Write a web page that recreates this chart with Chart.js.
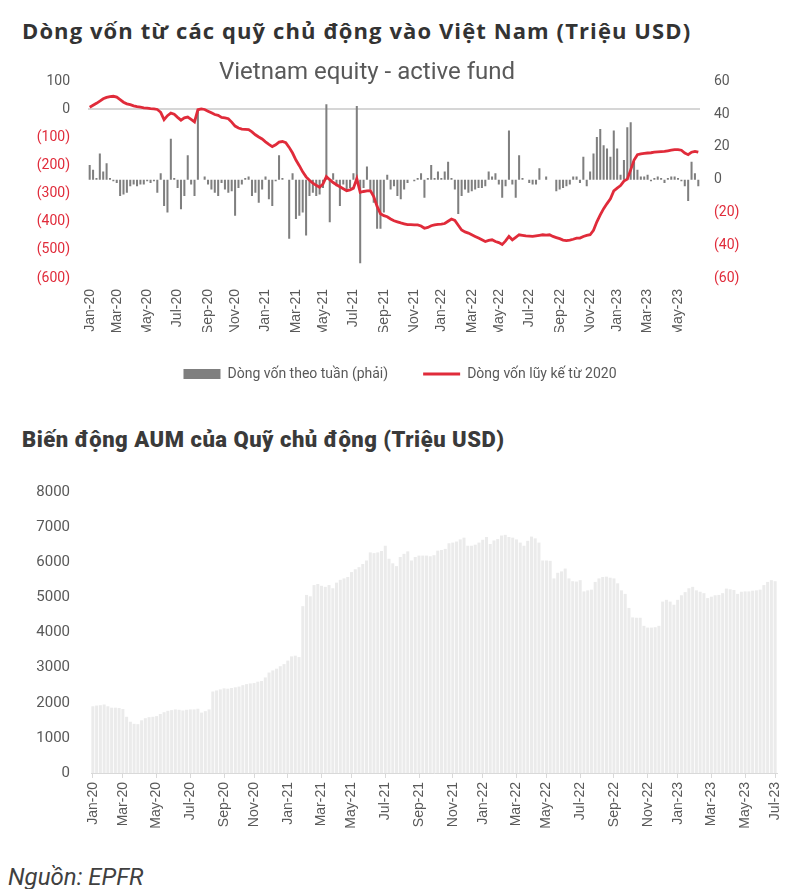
<!DOCTYPE html>
<html>
<head>
<meta charset="utf-8">
<script src="https://cdn.jsdelivr.net/npm/chart.js@4.4.1/dist/chart.umd.min.js"></script>
<style>
  body { margin: 0; background: #fff; width: 800px; height: 889px; position: relative; overflow: hidden; }
  .title { position: absolute; left: 22px; font-weight: bold; line-height: 26px; color: #333; white-space: nowrap; }
  #t1 { top: 17px; font-family: 'Open Sans', sans-serif; font-size: 22px; letter-spacing: 1.1px; }
  #t2 { top: 427px; font-family: Roboto, sans-serif; font-weight: 900; font-size: 22px; letter-spacing: 0.5px; color: #3a3a3a; }
  canvas { position: absolute; left: 0; }
  #flowChart { top: 55px; }
  #aumChart { top: 470px; }
  #src { position: absolute; left: 8px; top: 863px; font-family: Roboto, sans-serif; font-style: italic; font-size: 24px; line-height: 28px; color: #404040; }
</style>
</head>
<body>
<div class="title" id="t1">Dòng vốn từ các quỹ chủ động vào Việt Nam (Triệu USD)</div>
<canvas id="flowChart" width="800" height="336"></canvas>
<div class="title" id="t2">Biến động AUM của Quỹ chủ động (Triệu USD)</div>
<canvas id="aumChart" width="800" height="370"></canvas>
<div id="src">Nguồn: EPFR</div>
<script>
// weekly categories start here (one per week)
const firstWeek = '2020-01-05';

const tickLabels = ['Jan-20','Mar-20','May-20','Jul-20','Sep-20','Nov-20',
  'Jan-21','Mar-21','May-21','Jul-21','Sep-21','Nov-21',
  'Jan-22','Mar-22','May-22','Jul-22','Sep-22','Nov-22',
  'Jan-23','Mar-23','May-23','Jul-23'];

// weekly flow, right axis (million USD)
const weeklyFlow = [
  9, 6, 1, 16, 5, 10, 1, -1, -2, -10,
  -9, -8, -4, -3, -4, -3, -3, -1, -2, -1,
  -8, 4, -16, -20, 25, 1, -5, -18, -10, 15,
  -3, -10, 42, 0, 2, -3, -6, -8, -10, -2,
  -6, -8, -7, -22, -5, -3, 1, 2, -10, -8,
  -14, -6, 2, -12, -16, -1, 15, 1, 0, -36,
  4, -24, -22, -20, -34, -10, -8, -10, -9, -5,
  46, -26, 4, -4, -16, -3, -6, -5, 4, 45,
  -51, -5, 8, -6, -14, -30, -30, -20, 3, -6,
  -4, -10, -12, -6, -2, 0, -1, 1, 4, -11,
  1, 9, 1, 5, 1, 5, 11, 1, -6, -21,
  -10, -6, -8, -7, -6, -5, -5, -4, 5, 2,
  4, -3, -11, -4, 30, -3, -11, 15, 1, 0,
  -2, -3, -3, 7, 0, 2, 0, 0, -7, -6,
  -5, -4, -3, 2, 2, -2, 14, -4, 5, 16,
  26, 31, 21, 19, 14, 30, 19, 3, 12, 32,
  35, 11, 6, 2, 2, 3, -1, 1, 2, 1,
  -2, 1, 2, 2, 1, -1, -4, -13, 11, 4,
  -4
];

// cumulative flow since 2020, left axis (million USD)
const cumulativeFlow = [
  8, 15, 22, 30, 38, 43, 46, 47, 44, 35,
  26, 20, 17, 13, 10, 8, 6, 5, 3, 2,
  0, -10, -36, -22, -13, -17, -28, -38, -30, -27,
  -35, -44, -1, 2, 0, -6, -12, -18, -21, -28,
  -30, -33, -45, -59, -66, -70, -71, -72, -80, -90,
  -98, -105, -115, -124, -132, -126, -116, -114, -118, -135,
  -155, -180, -200, -222, -240, -252, -262, -270, -277, -265,
  -239, -250, -260, -268, -275, -282, -289, -286, -280, -246,
  -295, -292, -290, -289, -310, -345, -371, -378, -382, -390,
  -396, -400, -404, -407, -410, -410, -411, -411, -415, -423,
  -420, -414, -411, -409, -408, -406, -398, -390, -395, -412,
  -429, -436, -440, -446, -452, -458, -464, -470, -466, -464,
  -470, -474, -481, -468, -452, -464, -455, -446, -448, -450,
  -451, -452, -450, -448, -446, -447, -446, -452, -456, -460,
  -465, -467, -465, -462, -458, -458, -452, -448, -446, -430,
  -400, -375, -353, -335, -318, -290, -280, -271, -255, -248,
  -215, -180, -161, -158, -156, -155, -154, -152, -151, -150,
  -149, -147, -145, -143, -143, -145, -155, -161, -152, -149,
  -152
];

// AUM of active funds (million USD)
const aum = [
  1900, 1920, 1930, 1950, 1900, 1860, 1860, 1850, 1820, 1600,
  1460, 1400, 1390, 1500, 1560, 1590, 1600, 1620, 1680, 1730,
  1770, 1790, 1810, 1800, 1780, 1800, 1810, 1810, 1830, 1720,
  1760, 1810, 2320, 2350, 2380, 2410, 2400, 2420, 2440, 2460,
  2500, 2530, 2550, 2560, 2600, 2620, 2720, 2860, 2920, 2970,
  3040, 3100, 3200, 3320, 3340, 3300, 4750, 5070, 5030, 5350,
  5380, 5330, 5300, 5350, 5260, 5420, 5500, 5540, 5580, 5720,
  5800, 5860, 5950, 6050, 6280, 6260, 6280, 6320, 6470, 6100,
  5970, 5890, 6150, 6240, 6310, 6050, 6150, 6190, 6190, 6190,
  6170, 6200, 6330, 6350, 6380, 6540, 6560, 6590, 6650, 6700,
  6470, 6470, 6500, 6560, 6640, 6720, 6520, 6620, 6660, 6760,
  6780, 6720, 6700, 6650, 6560, 6470, 6610, 6730, 6680, 6560,
  6050, 6050, 6040, 5540, 5700, 5740, 5820, 5540, 5460, 5450,
  5490, 5170, 5200, 5220, 5440, 5540, 5580, 5590, 5560, 5540,
  5400, 5200, 5100, 4700, 4430, 4420, 4420, 4190, 4140, 4140,
  4150, 4190, 4880, 4930, 4880, 4790, 4930, 5060, 5150, 5260,
  5300, 5200, 5160, 5120, 4980, 5020, 5060, 5070, 5120, 5250,
  5230, 5210, 5100, 5160, 5170, 5170, 5190, 5200, 5220, 5350,
  5440, 5490, 5460
];

const RED = '#e02b3a';
const GREY_TEXT = '#595959';
const MONTHS = ['Jan','Feb','Mar','Apr','May','Jun','Jul','Aug','Sep','Oct','Nov','Dec'];

// weekly date labels
let weeks = [];
let start = new Date(firstWeek + 'T00:00:00Z').getTime();
for (let i = 0; i < aum.length; i++) {
  weeks.push(new Date(start + i * 7 * 86400000).toISOString().slice(0, 10));
}
function monthOf(s) {
  let d = new Date(s + 'T00:00:00Z');
  return MONTHS[d.getUTCMonth()] + '-' + String(d.getUTCFullYear()).slice(2);
}
function monthTick(labels) {
  return function (value, index) {
    let m = monthOf(labels[index]);
    if (!tickLabels.includes(m)) return null;
    if (index > 0 && monthOf(labels[index - 1]) === m) return null;
    return m;
  };
}
function paren(v) { return v < 0 ? '(' + Math.abs(v) + ')' : String(v); }

Chart.defaults.font.family = 'Roboto';
Chart.defaults.color = GREY_TEXT;

const flowWeeks = weeks.slice(0, weeklyFlow.length);

// title drawn inside the plot
const innerTitle = {
  id: 'innerTitle',
  afterDraw(chart) {
    let ctx = chart.ctx;
    ctx.save();
    ctx.font = '24px Roboto';
    ctx.fillStyle = GREY_TEXT;
    ctx.textAlign = 'center';
    ctx.textBaseline = 'middle';
    ctx.fillText('Vietnam equity - active fund', 367, 18);
    ctx.restore();
  }
};

new Chart(document.getElementById('flowChart'), {
  type: 'bar',
  data: {
    labels: flowWeeks,
    datasets: [{
      type: 'bar',
      label: 'Dòng vốn theo tuần (phải)',
      data: weeklyFlow,
      yAxisID: 'y2',
      backgroundColor: '#7f7f7f',
      barPercentage: 0.6,
      categoryPercentage: 1,
      order: 2
    }, {
      type: 'line',
      label: 'Dòng vốn lũy kế từ 2020',
      data: cumulativeFlow,
      yAxisID: 'y',
      borderColor: RED,
      backgroundColor: RED,
      borderWidth: 2.8,
      pointRadius: 0,
      tension: 0,
      order: 1
    }]
  },
  options: {
    responsive: false,
    animation: false,
    layout: { padding: { top: 20, left: 0, right: 0, bottom: 0 } },
    plugins: {
      tooltip: { enabled: false },
      legend: {
        position: 'bottom',
        labels: {
          usePointStyle: true,
          pointStyleWidth: 37,
          boxHeight: 10,
          padding: 35,
          color: GREY_TEXT,
          font: { family: 'Roboto', size: 14 },
          generateLabels(chart) {
            let items = Chart.defaults.plugins.legend.labels.generateLabels(chart);
            items.forEach(it => {
              if (it.datasetIndex === 0) {
                it.pointStyle = 'rect';
                it.fillStyle = '#7f7f7f';
                it.lineWidth = 0;
              } else {
                it.pointStyle = 'line';
                it.strokeStyle = RED;
                it.lineWidth = 2.8;
              }
            });
            items.sort((a, b) => a.datasetIndex - b.datasetIndex);
            return items;
          }
        }
      }
    },
    scales: {
      x: {
        grid: { display: false, drawTicks: false },
        border: { display: false },
        ticks: {
          autoSkip: false, minRotation: 90, maxRotation: 90, padding: 11,
          color: GREY_TEXT,
          font: { family: 'Liberation Sans', size: 14 },
          callback: monthTick(flowWeeks)
        },
        afterFit(s) { s.height = 54; }
      },
      y: {
        position: 'left',
        min: -600, max: 100,
        grid: {
          drawTicks: false, lineWidth: 2,
          color: c => c.tick.value === 0 ? '#d6d6d6' : 'rgba(0,0,0,0)'
        },
        border: { display: false },
        ticks: {
          stepSize: 100, padding: 18,
          font: { family: 'Roboto', size: 14 },
          color: c => c.tick.value < 0 ? RED : GREY_TEXT,
          callback: v => paren(v)
        },
        afterFit(s) { s.width = 88; }
      },
      y2: {
        position: 'right',
        min: -60, max: 60,
        grid: { display: false, drawTicks: false },
        border: { display: false },
        ticks: {
          stepSize: 20, padding: 14,
          font: { family: 'Roboto', size: 14 },
          color: c => c.tick.value < 0 ? RED : GREY_TEXT,
          callback: v => paren(v)
        },
        afterFit(s) { s.width = 100; }
      }
    }
  },
  plugins: [innerTitle]
});

new Chart(document.getElementById('aumChart'), {
  type: 'bar',
  data: {
    labels: weeks,
    datasets: [{
      label: 'AUM',
      data: aum,
      backgroundColor: '#ebebeb',
      barPercentage: 0.8,
      categoryPercentage: 1
    }]
  },
  options: {
    responsive: false,
    animation: false,
    layout: { padding: { top: 17, left: 0, right: 23, bottom: 0 } },
    plugins: { legend: { display: false }, tooltip: { enabled: false } },
    scales: {
      x: {
        grid: { display: true, drawOnChartArea: false, drawTicks: true, tickLength: 5, color: '#d9d9d9', offset: false },
        border: { display: true, color: '#d9d9d9', width: 1 },
        ticks: {
          autoSkip: false, minRotation: 90, maxRotation: 90, padding: 4,
          color: GREY_TEXT,
          font: { family: 'Liberation Sans', size: 14 },
          callback: monthTick(weeks)
        },
        afterFit(s) { s.height = 67; }
      },
      y: {
        min: 0, max: 8000,
        grid: { display: false },
        border: { display: false },
        ticks: {
          stepSize: 1000, padding: 13, color: GREY_TEXT,
          font: { family: 'Roboto', size: 15 },
          callback: v => String(v)
        },
        afterFit(s) { s.width = 91; }
      }
    }
  }
});
</script>
</body>
</html>
